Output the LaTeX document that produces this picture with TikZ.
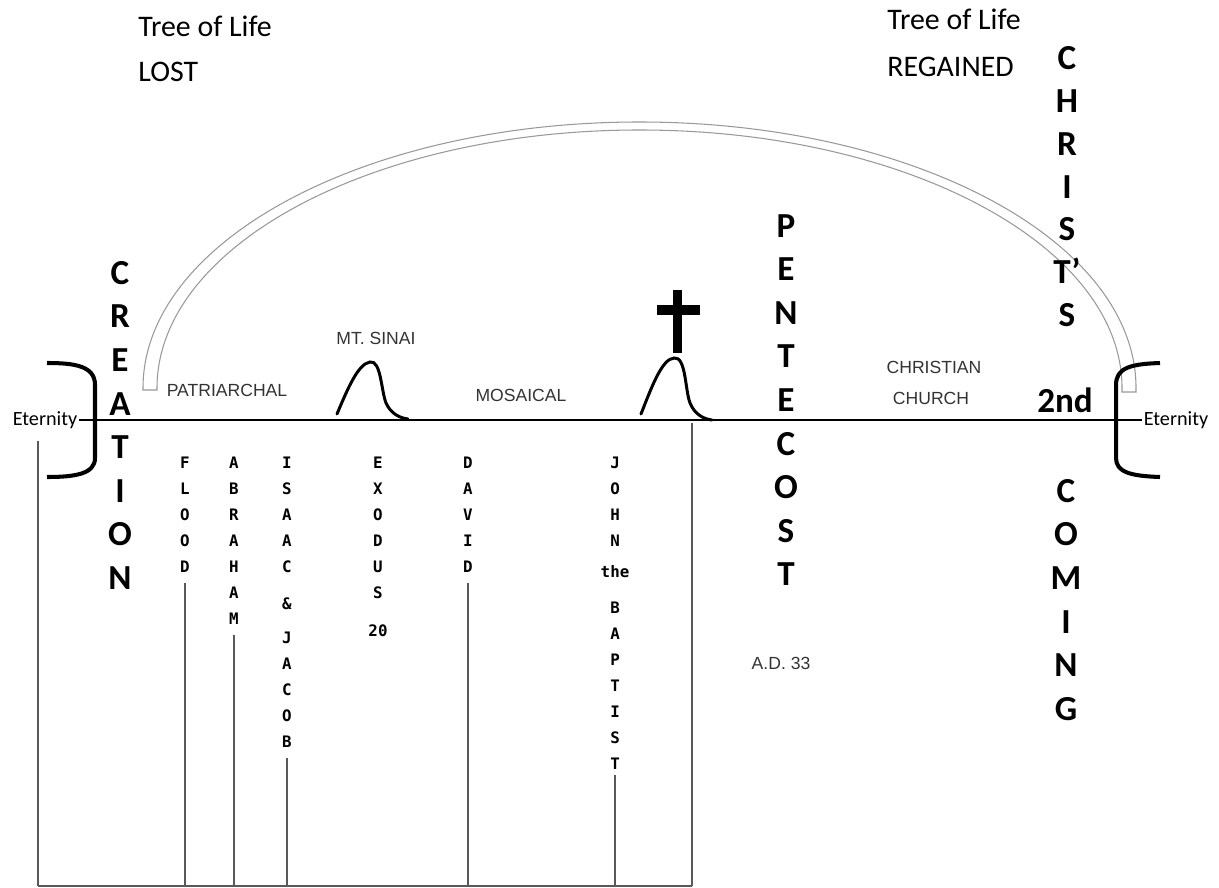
\documentclass[tikz,border=0pt]{standalone}
\usepackage{fontspec}
\setmainfont{Carlito}
\newfontfamily\erafont{Liberation Sans}
\newfontfamily\namefont{DejaVu Sans Mono Bold}
\usetikzlibrary{positioning}

\begin{document}
\begin{tikzpicture}[x=0.02cm, y=0.02cm,
    heading/.style={font=\fontsize{17}{20}\selectfont, anchor=base west, inner sep=0pt},
    bigword/.style={font=\bfseries\fontsize{20}{24.8}\selectfont, align=center, anchor=north, inner sep=0pt},
    nameword/.style={font=\namefont\fontsize{9}{14.75}\selectfont, align=center, anchor=north, inner sep=0pt},
    era/.style={font=\erafont\fontsize{10}{12}\selectfont, text=black!80, inner sep=0pt},
    eternity/.style={font=\fontsize{11.5}{13}\selectfont, inner sep=1pt},
    timeline/.style={line width=1.7pt},
    bracket/.style={line width=2.3pt},
    hill/.style={line width=1.7pt, line cap=round},
    stem/.style={line width=0.9pt, black!65, shorten <=6pt}
]
\useasboundingbox (0,0) rectangle (1219,-888);

% Tree of Life
\node[heading] (lostA) at (138,-37) {Tree of Life};
\node[heading] (lostB) at (138,-82) {LOST};
\node[heading] (gainA) at (887,-30) {Tree of Life};
\node[heading] (gainB) at (887,-77) {REGAINED};

% Arch
\draw[gray!80, fill=white, line width=0.6pt] (143,-390) -- (143,-388)
    arc[start angle=180, end angle=0, x radius=496.5, y radius=266]
    -- (1136,-392) -- (1122,-392) -- (1122,-388)
    arc[start angle=0, end angle=180, x radius=482.5, y radius=258]
    -- (157,-390) -- cycle;

% Eternity brackets
\draw[bracket] (47,-363) .. controls (75,-363) and (95,-366) .. (95,-385) -- (95,-458)
    .. controls (95,-474) and (75,-477) .. (47,-477);
\draw[bracket] (1160,-363) .. controls (1130,-364) and (1116,-368) .. (1116,-385) -- (1116,-458)
    .. controls (1116,-472) and (1130,-476) .. (1160,-477);

% Timeline
\node[eternity] (etl) at (45,-420) {Eternity};
\node[eternity] (etr) at (1176,-420) {Eternity};
\draw[timeline] (etl) -- (etr);

% Mountains and cross
\draw[hill] (337,-414) .. controls (348,-388) and (358,-364) .. (370,-362)
    .. controls (381,-360) and (381,-390) .. (386,-403)
    .. controls (391,-414) and (400,-418) .. (408,-419);
\draw[hill] (641,-414) .. controls (652,-386) and (662,-359) .. (674,-358)
    .. controls (686,-356) and (685,-390) .. (690,-403)
    .. controls (695,-415) and (704,-419) .. (712,-420);
\fill (673,-290) rectangle (682,-353);
\fill (657,-305) rectangle (700,-315);

% Eras
\node[era] (patr) at (227,-390) {PATRIARCHAL};
\node[era] (sinai) at (376,-338) {MT. SINAI};
\node[era] (mosaic) at (521,-395) {MOSAICAL};
\node[era] (church1) at (934,-367) {CHRISTIAN};
\node[era] (church2) at (931,-398) {CHURCH};
\node[era] (ad) at (781,-663) {A.D. 33};

% Big words
\node[bigword] (creation) at (120,-261) {C\\R\\E\\A\\T\\I\\O\\N};
\node[bigword] (pentecost) at (786,-214) {P\\E\\N\\T\\E\\C\\O\\S\\T};
\node[bigword, font=\bfseries\fontsize{20}{24.4}\selectfont] (christs) at (1067,-46) {C\\H\\R\\I\\S\\T’\\S};
\node[bigword, anchor=center] (second) at (1065,-400) {2nd};
\node[bigword] (coming) at (1066,-479) {C\\O\\M\\I\\N\\G};

% Names below the line
\node[nameword] (flood) at (185,-457) {F\\L\\O\\O\\D};
\node[nameword] (abraham) at (234,-457) {A\\B\\R\\A\\H\\A\\M};
\node[nameword] (isaac) at (287,-457) {I\\S\\A\\A\\C\\[6pt]\&\\[5pt]J\\A\\C\\O\\B};
\node[nameword] (exodus) at (378,-457) {E\\X\\O\\D\\U\\S\\[6.8pt]20};
\node[nameword] (david) at (468,-457) {D\\A\\V\\I\\D};
\node[nameword] (john) at (615,-457) {J\\O\\H\\N\\[2.8pt]the\\[6pt]B\\A\\P\\T\\I\\S\\T};

% Stems
\coordinate (bl) at (38,-886);
\coordinate (br) at (692,-886);
\coordinate (calvary) at (692,-421);
\draw[stem] (etl.south -| bl) -- (bl);
\draw[stem] (flood.south) -- (flood.south |- bl);
\draw[stem] (abraham.south) -- (abraham.south |- bl);
\draw[stem] (isaac.south) -- (isaac.south |- bl);
\draw[stem] (david.south) -- (david.south |- bl);
\draw[stem, shorten <=3pt] (john.south) -- (john.south |- bl);
\draw[stem, shorten <=1pt] (calvary) -- (br);
\draw[stem, shorten <=0pt] (bl) -- (br);

\end{tikzpicture}
\end{document}
